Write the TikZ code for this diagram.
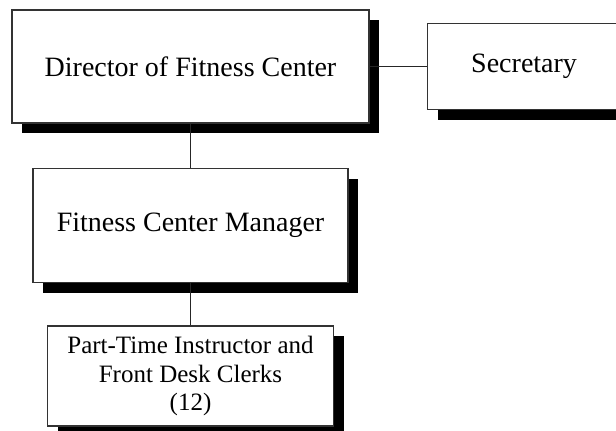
\documentclass[tikz,border=0pt]{standalone}
\usepackage{fontspec}
\setmainfont{Liberation Serif}
\usetikzlibrary{positioning,shadows}

\begin{document}
\begin{tikzpicture}[x=1pt,y=-1pt,
  box/.style={rectangle,draw=black!80,line width=1.6pt,fill=white,align=center,inner sep=0pt,
    drop shadow={shadow xshift=10pt,shadow yshift=-10pt,fill=black,opacity=1}},
  link/.style={line width=1.6pt,draw=black!85},
  font=\fontsize{28}{30}\selectfont
]
\useasboundingbox (0,0) rectangle (616,431);
\clip (0,0) rectangle (616,431);
\node[box,minimum width=357pt,minimum height=113pt] (director) at (190.5,66.5) {Director of Fitness Center};
\node[box,minimum width=193pt,minimum height=86pt,right=57pt of director] (secretary) {Secretary};
\node[box,minimum width=315pt,minimum height=114pt,below=44pt of director] (manager) {Fitness Center Manager};
\node[box,minimum width=286pt,minimum height=100pt,below=42pt of manager,
  font=\fontsize{25}{28.5}\selectfont] (staff) {Part-Time Instructor and\\Front Desk Clerks\\(12)};
\draw[link] (director) -- (secretary);
\draw[link] (director) -- (manager);
\draw[link] (manager) -- (staff);
\end{tikzpicture}
\end{document}
